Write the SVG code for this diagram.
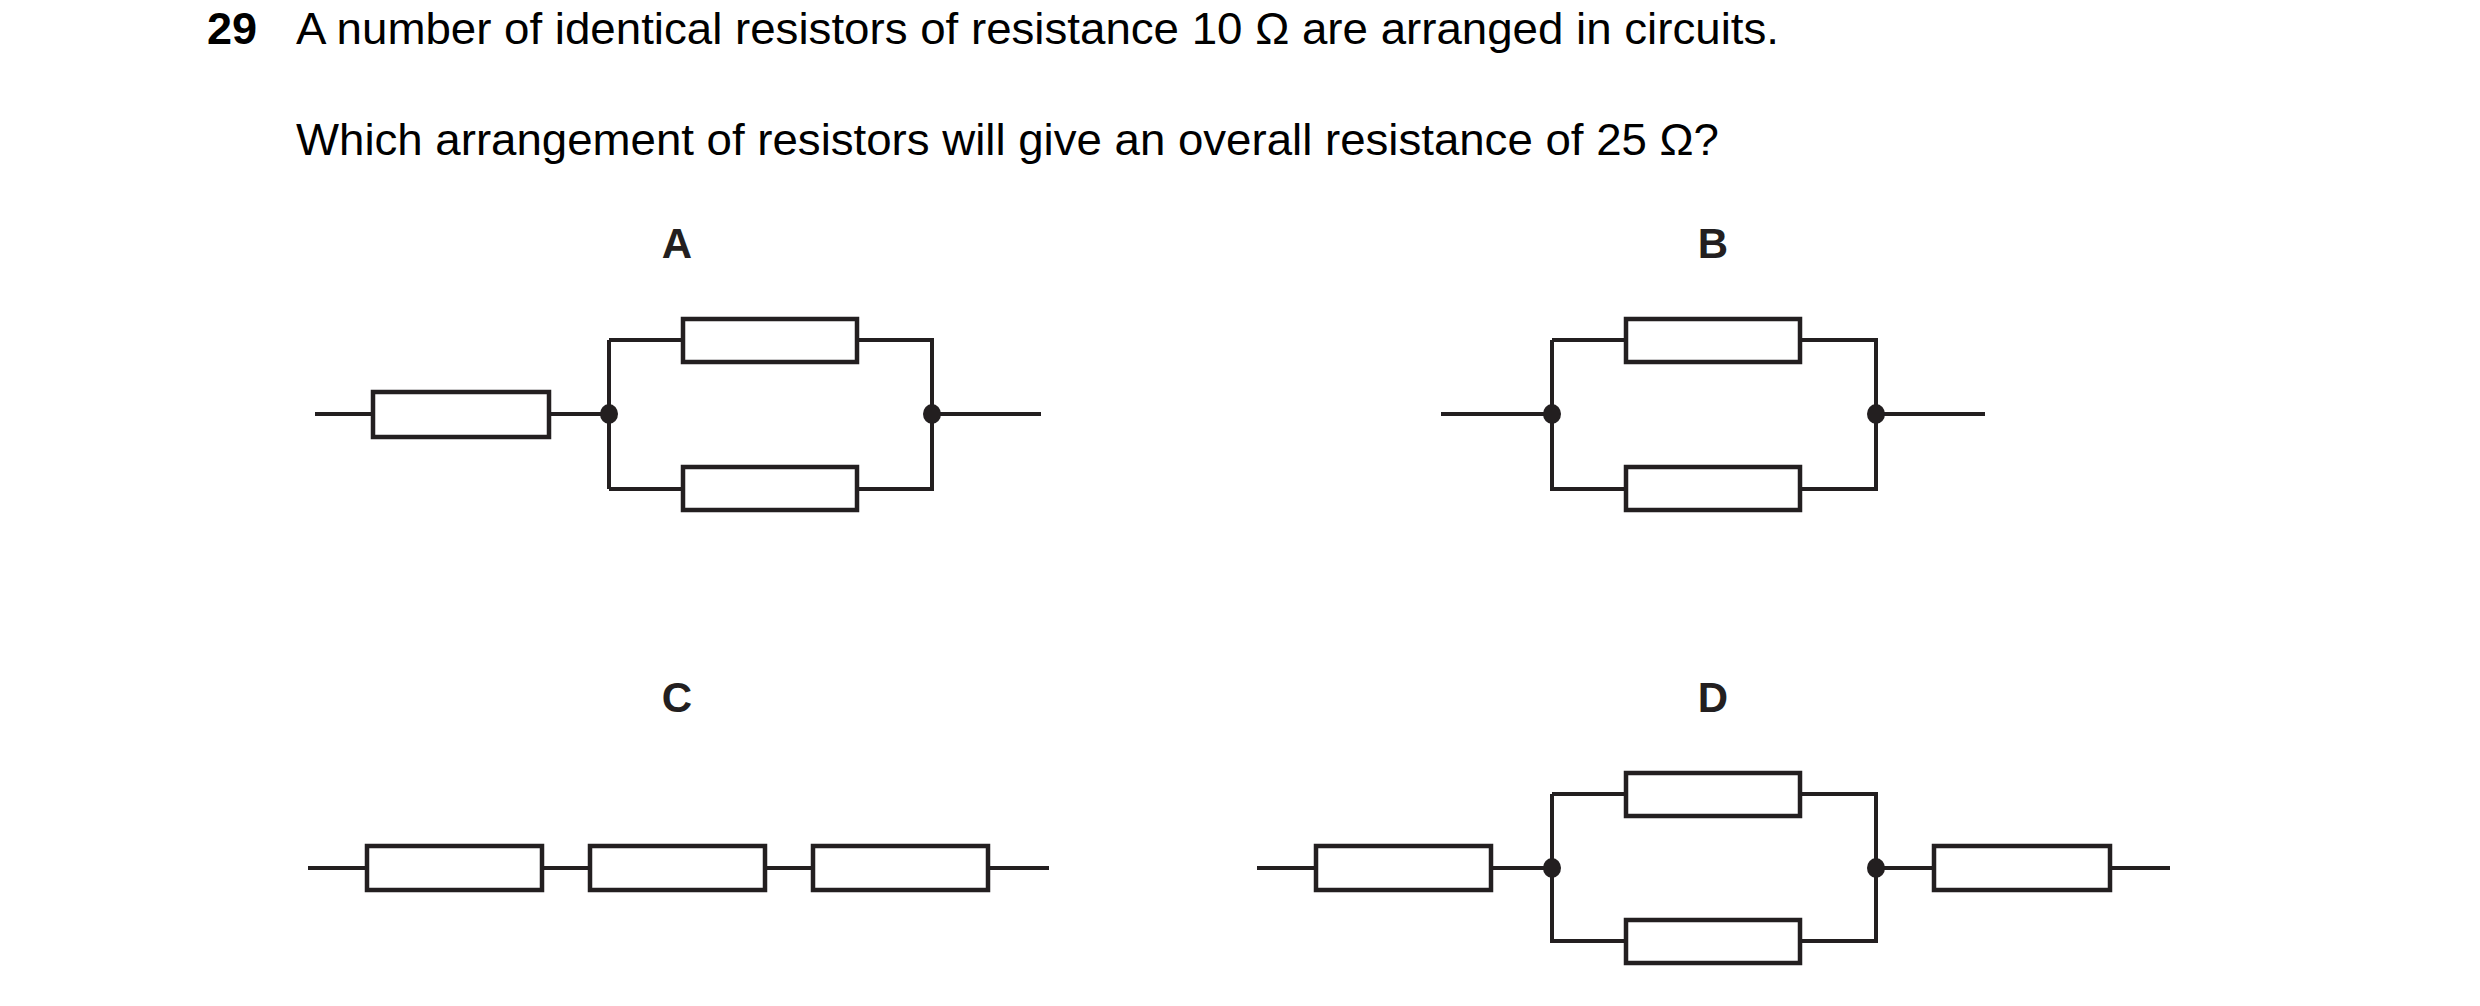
<svg xmlns="http://www.w3.org/2000/svg" width="2480" height="1006" viewBox="0 0 2480 1006">
<style>
.w{stroke:#231f20;stroke-width:4;fill:none}
.r{stroke:#231f20;stroke-width:4.5;fill:#fff}
.d{fill:#231f20}
.t{font-family:"Liberation Sans",Arial,sans-serif;font-size:45px;fill:#000}
.l{font-family:"Liberation Sans",Arial,sans-serif;font-size:42px;font-weight:bold;fill:#231f20;text-anchor:middle}
</style>
<rect width="2480" height="1006" fill="#fff"/>
<text class="t" x="207" y="44" font-weight="bold">29</text>
<text class="t" x="296" y="44" textLength="1483" lengthAdjust="spacingAndGlyphs">A number of identical resistors of resistance 10 Ω are arranged in circuits.</text>
<text class="t" x="296" y="155" textLength="1423" lengthAdjust="spacingAndGlyphs">Which arrangement of resistors will give an overall resistance of 25 Ω?</text>
<text class="l" x="677" y="258">A</text>
<text class="l" x="1713" y="258">B</text>
<text class="l" x="677" y="712">C</text>
<text class="l" x="1713" y="712">D</text>
<g id="connectors">
<path class="w" d="M315 414H609M609 340V489M609 340H932V489H609M932 414H1041"/>
<path class="w" d="M1441 414H1552M1876 414H1985M1552 340V489H1876V340H1552"/>
<path class="w" d="M308 868H1049"/>
<path class="w" d="M1257 868H1552M1876 868H2170M1552 794V941H1876V794H1552"/>
</g>
<g id="A">
<rect class="r" x="373" y="392" width="176" height="45"/>
<rect class="r" x="683" y="319" width="174" height="43"/>
<rect class="r" x="683" y="467" width="174" height="43"/>
<ellipse class="d" cx="609" cy="414" rx="9" ry="10"/>
<ellipse class="d" cx="932" cy="414" rx="9" ry="10"/>
</g>
<g id="B">
<rect class="r" x="1626" y="319" width="174" height="43"/>
<rect class="r" x="1626" y="467" width="174" height="43"/>
<ellipse class="d" cx="1552" cy="414" rx="9" ry="10"/>
<ellipse class="d" cx="1876" cy="414" rx="9" ry="10"/>
</g>
<g id="C">
<rect class="r" x="367" y="846" width="175" height="44"/>
<rect class="r" x="590" y="846" width="175" height="44"/>
<rect class="r" x="813" y="846" width="175" height="44"/>
</g>
<g id="D">
<rect class="r" x="1316" y="846" width="175" height="44"/>
<rect class="r" x="1626" y="773" width="174" height="43"/>
<rect class="r" x="1626" y="920" width="174" height="43"/>
<rect class="r" x="1934" y="846" width="176" height="44"/>
<ellipse class="d" cx="1552" cy="868" rx="9" ry="10"/>
<ellipse class="d" cx="1876" cy="868" rx="9" ry="10"/>
</g>
</svg>
